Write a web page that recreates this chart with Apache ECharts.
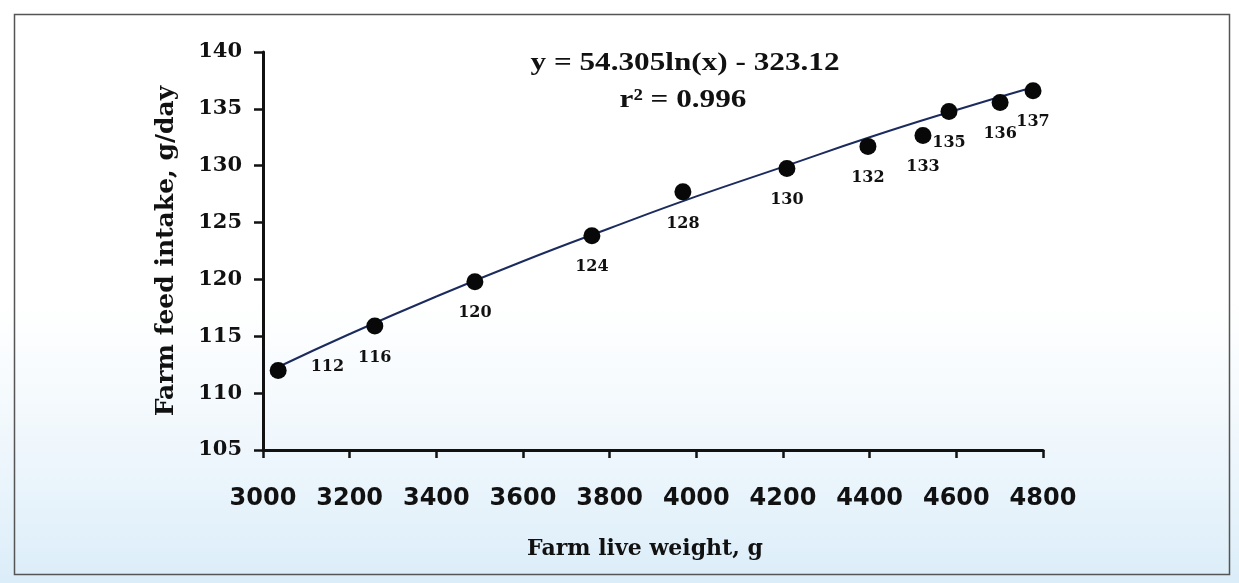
<!DOCTYPE html>
<html>
<head>
<meta charset="utf-8">
<script src="https://cdn.jsdelivr.net/npm/echarts@6/dist/echarts.min.js"></script>
<style>
  html, body { margin: 0; padding: 0; background: #ffffff; }
  #chart { width: 1239px; height: 583px; }
</style>
</head>
<body>
<div id="chart"></div>
<script>
// Data
const weights = [3035, 3258, 3489, 3759, 3969, 4209, 4396, 4523, 4583, 4701, 4777];
const intake = [112.0, 115.9, 119.8, 123.85, 127.7, 129.75, 131.7, 132.65, 134.76, 135.55, 136.6];
const pointLabels = ['112', '116', '120', '124', '128', '130', '132', '133', '135', '136', '137'];
// Logarithmic trend line as drawn in the picture
const trendX = [3035, 3200, 3400, 3600, 3800, 4000, 4200, 4400, 4600, 4777];
const trendY = [112.3, 115.2, 118.5, 121.6, 124.5, 127.3, 129.9, 132.5, 134.9, 136.9];
const yTicks = [105, 110, 115, 120, 125, 130, 135, 140];
const xTicks = [3000, 3200, 3400, 3600, 3800, 4000, 4200, 4400, 4600, 4800];
const equationText = 'y = 54.305ln(x) - 323.12';
const r2Text = 'r\u00B2 = 0.996';
const xTitle = 'Farm live weight, g';
const yTitle = 'Farm feed intake, g/day';

const SERIF = '"DejaVu Serif", "Liberation Serif", serif';
const TIMES = '"Liberation Serif", "DejaVu Serif", serif';
const SANS = '"DejaVu Sans", "Liberation Sans", sans-serif';

const chart = echarts.init(document.getElementById('chart'), null, { renderer: 'canvas' });

const pointData = weights.map((w, i) => {
  const d = { value: [w, intake[i]], label: { formatter: pointLabels[i] } };
  if (i === 0) {
    d.label.position = 'right';
    d.label.distance = 24;
    d.label.offset = [0, -4];
  }
  return d;
});

const option = {
  backgroundColor: '#ffffff',
  animation: false,
  grid: { left: 263, right: 196, top: 52, bottom: 133 },
  xAxis: {
    type: 'value',
    min: xTicks[0],
    max: xTicks[xTicks.length - 1],
    interval: 200,
    name: xTitle,
    nameLocation: 'middle',
    nameGap: 88,
    nameTextStyle: { fontFamily: SERIF, fontWeight: 'bold', fontSize: 22, color: '#111', padding: [0, 16, 0, 0] },
    axisLine: { show: true, onZero: false, lineStyle: { color: '#111', width: 3 } },
    axisTick: { show: true, inside: false, length: 8, lineStyle: { color: '#111', width: 2.5 } },
    axisLabel: {
      fontFamily: SANS, fontWeight: 'bold', fontSize: 24, color: '#111', margin: 37,
      formatter: v => String(v)
    },
    splitLine: { show: false }
  },
  yAxis: {
    type: 'value',
    min: yTicks[0],
    max: yTicks[yTicks.length - 1],
    interval: 5,
    name: yTitle,
    nameLocation: 'middle',
    nameGap: 84,
    nameRotate: 90,
    nameTextStyle: { fontFamily: SERIF, fontWeight: 'bold', fontSize: 25, color: '#111' },
    axisLine: { show: true, onZero: false, lineStyle: { color: '#111', width: 3 } },
    axisTick: { show: true, inside: false, length: 9, lineStyle: { color: '#111', width: 2.5 } },
    axisLabel: { fontFamily: SERIF, fontWeight: 'bold', fontSize: 21, color: '#111', margin: 21 },
    splitLine: { show: false }
  },
  series: [
    {
      type: 'line',
      data: trendX.map((x, i) => [x, trendY[i]]),
      smooth: true,
      showSymbol: false,
      lineStyle: { color: '#1c2b5e', width: 2 },
      z: 2
    },
    {
      type: 'scatter',
      data: pointData,
      symbol: 'circle',
      symbolSize: 17,
      itemStyle: { color: '#080808', opacity: 1 },
      label: {
        show: true,
        position: 'bottom',
        distance: 15,
        fontFamily: SERIF,
        fontWeight: 'bold',
        fontSize: 16,
        color: '#111',
        opacity: 1
      },
      z: 3
    }
  ],
  graphic: [
    {
      type: 'rect',
      left: 0, top: 300,
      shape: { width: 1239, height: 283 },
      style: {
        fill: new echarts.graphic.LinearGradient(0, 0, 0, 1, [
          { offset: 0, color: 'rgba(225,240,250,0)' },
          { offset: 1, color: 'rgba(215,235,248,0.9)' }
        ])
      },
      silent: true,
      z: -10
    },
    {
      type: 'rect',
      left: 12, top: 12,
      shape: { width: 1215, height: 560 },
      style: { fill: 'none', stroke: '#555', lineWidth: 1.5 },
      silent: true
    },
    {
      type: 'text',
      x: 685, y: 63,
      scaleX: 1.2,
      style: {
        text: equationText, fontFamily: TIMES, fontWeight: 'bold', fontSize: 26,
        fill: '#111', textAlign: 'center', textVerticalAlign: 'middle'
      }
    },
    {
      type: 'text',
      x: 683, y: 100,
      scaleX: 1.2,
      style: {
        text: r2Text, fontFamily: TIMES, fontWeight: 'bold', fontSize: 26,
        fill: '#111', textAlign: 'center', textVerticalAlign: 'middle'
      }
    }
  ]
};

chart.setOption(option);
</script>
</body>
</html>
